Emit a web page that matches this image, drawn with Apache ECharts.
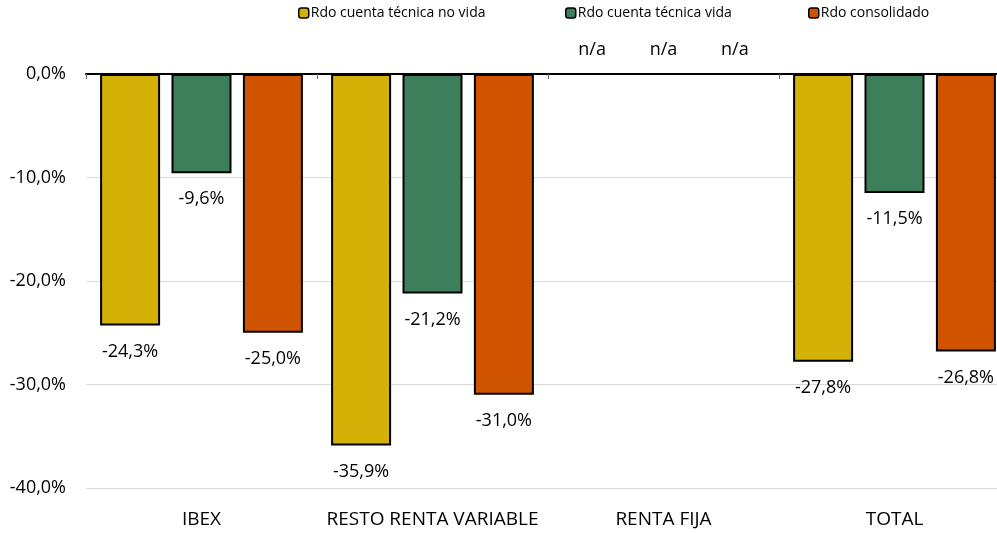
<!DOCTYPE html>
<html>
<head>
<meta charset="utf-8">
<script src="https://cdn.jsdelivr.net/npm/echarts@6/dist/echarts.min.js"></script>
<style>
  html, body { margin: 0; padding: 0; background: #fff; overflow: hidden; }
  #chart { width: 1010px; height: 533px; }
</style>
</head>
<body>
<div id="chart"></div>
<script>
// Categories and series values (percent); null = not available
const categories = ['IBEX', 'RESTO RENTA VARIABLE', 'RENTA FIJA', 'TOTAL'];
const seriesNames = ['Rdo cuenta técnica no vida', 'Rdo cuenta técnica vida', 'Rdo consolidado'];
const noVida = [-24.3, -35.9, null, -27.8];
const vida = [-9.6, -21.2, null, -11.5];
const consolidado = [-25.0, -31.0, null, -26.8];
const yTicks = [-40, -30, -20, -10, 0];

const colors = ['#d3b106', '#3e7f5b', '#d05300'];
const FONT = '"Open Sans", "Noto Sans", sans-serif';

const fmt = v => v.toFixed(1).replace('.', ',') + '%';

function buildData(values) {
  return values.map(v => {
    if (v === null) {
      return {
        value: 0,
        label: { position: 'top', distance: 14, formatter: 'n/a' }
      };
    }
    return { value: v };
  });
}

const allValues = [noVida, vida, consolidado];

const chart = echarts.init(document.getElementById('chart'), null, { renderer: 'canvas' });

const legendLefts = [298, 565, 808];

const option = {
  animation: false,
  textStyle: { fontFamily: FONT },
  legend: seriesNames.map((name, i) => ({
    data: [name],
    left: legendLefts[i],
    top: 6,
    itemWidth: 10,
    itemHeight: 10,
    itemGap: 2,
    padding: 0,
    textStyle: { fontSize: 14, color: '#000', fontFamily: FONT, padding: [0, 0, 0, -3] },
    itemStyle: { borderColor: '#000', borderWidth: 1.5 }
  })),
  grid: { left: 86, right: 0, top: 74, bottom: 45, containLabel: false },
  xAxis: [
    {
      type: 'category',
      data: categories,
      position: 'top',
      axisLine: { show: true, lineStyle: { color: '#000', width: 2 } },
      axisTick: { show: true, inside: true, length: 5, lineStyle: { color: '#666' } },
      axisLabel: { show: false },
      splitLine: { show: false }
    },
    {
      type: 'category',
      data: categories,
      position: 'bottom',
      axisLine: { show: false },
      axisTick: { show: false },
      axisLabel: { interval: 0, fontSize: 19, color: '#000', margin: 22, fontFamily: FONT },
      splitLine: { show: false }
    }
  ],
  yAxis: {
    type: 'value',
    min: yTicks[0],
    max: yTicks[yTicks.length - 1],
    interval: 10,
    axisLine: { show: false },
    axisTick: { show: false },
    axisLabel: { formatter: fmt, fontSize: 18, color: '#000', margin: 20, fontFamily: FONT },
    splitLine: { show: true, lineStyle: { color: '#d9d9d9', width: 1 } }
  },
  series: seriesNames.map((name, i) => ({
    name: name,
    type: 'bar',
    xAxisIndex: 0,
    barWidth: 60,
    barGap: '19%',
    itemStyle: { color: colors[i], borderColor: '#000', borderWidth: 2 },
    label: {
      show: true,
      position: 'bottom',
      distance: 17,
      fontSize: 18,
      color: '#000',
      fontFamily: FONT,
      formatter: p => fmt(p.value)
    },
    data: buildData(allValues[i])
  }))
};

chart.setOption(option);
</script>
</body>
</html>
